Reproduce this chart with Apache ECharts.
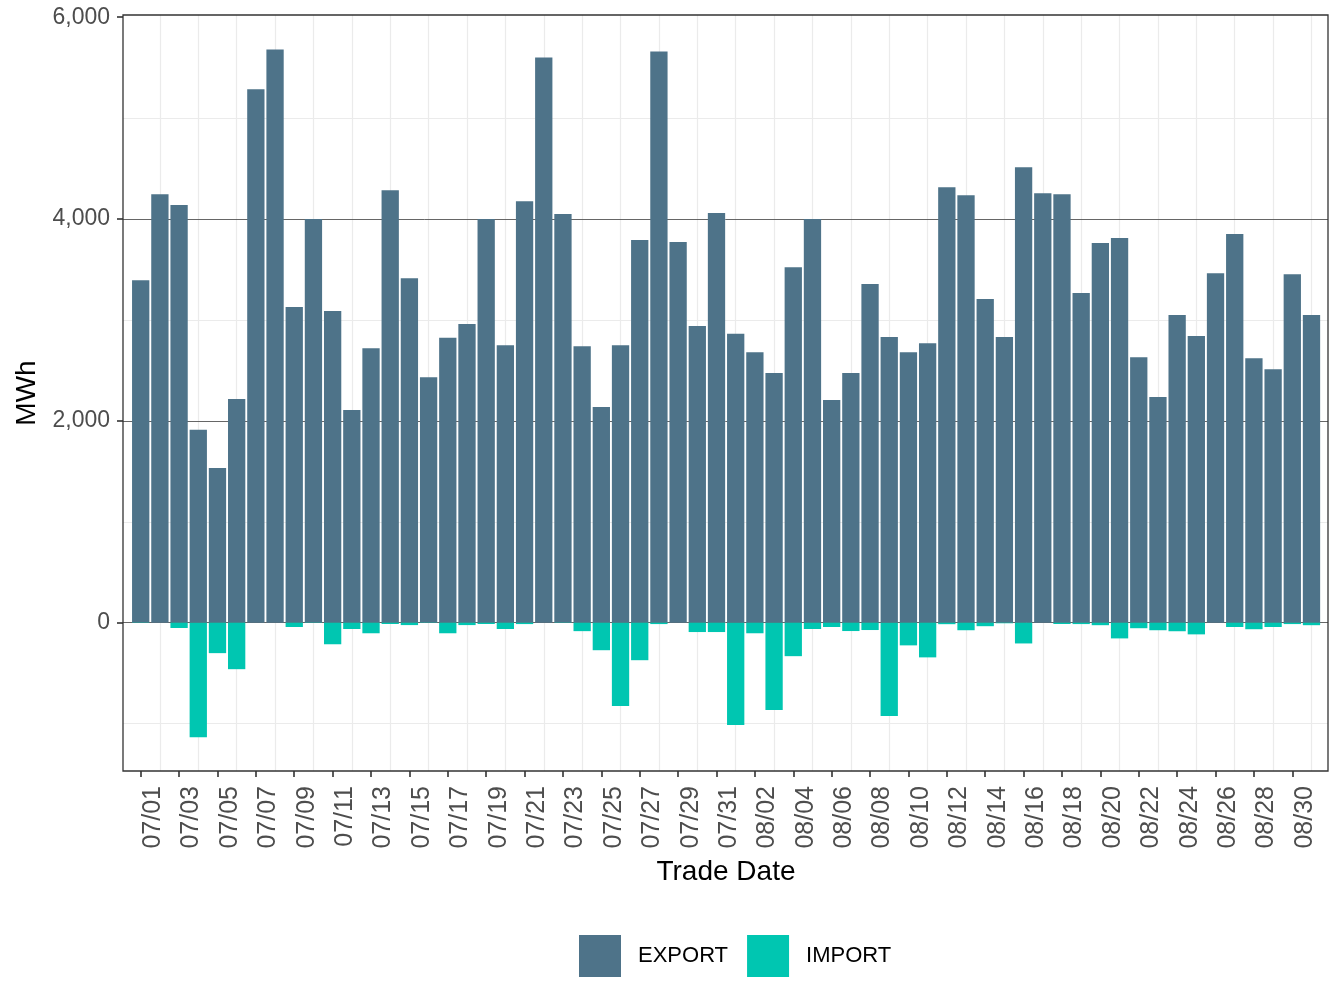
<!DOCTYPE html>
<html>
<head>
<meta charset="utf-8">
<script src="https://cdn.jsdelivr.net/npm/echarts@6/dist/echarts.min.js"></script>
<style>
  html, body { margin: 0; padding: 0; background: #fff; }
  #chart { width: 1344px; height: 1008px; }
</style>
</head>
<body>
<div id="chart"></div>
<script>
const categories = [
  '07/01','07/02','07/03','07/04','07/05','07/06','07/07','07/08','07/09','07/10',
  '07/11','07/12','07/13','07/14','07/15','07/16','07/17','07/18','07/19','07/20',
  '07/21','07/22','07/23','07/24','07/25','07/26','07/27','07/28','07/29','07/30','07/31',
  '08/01','08/02','08/03','08/04','08/05','08/06','08/07','08/08','08/09','08/10',
  '08/11','08/12','08/13','08/14','08/15','08/16','08/17','08/18','08/19','08/20',
  '08/21','08/22','08/23','08/24','08/25','08/26','08/27','08/28','08/29','08/30','08/31'
];
const exportVals = [
  3394, 4246, 4138, 1911, 1532, 2217, 5286, 5680, 3128, 4000,
  3089, 2108, 2719, 4286, 3414, 2433, 2823, 2961, 4000, 2749,
  4177, 5601, 4049, 2739, 2138, 2749, 3793, 5660, 3773, 2941, 4059,
  2862, 2680, 2473, 3522, 4000, 2207, 2473, 3355, 2832, 2680,
  2768, 4315, 4236, 3207, 2832, 4512, 4256, 4246, 3266, 3763,
  3813, 2630, 2236, 3049, 2842, 3463, 3852, 2621, 2512, 3453, 3049
];
const importVals = [
  -3, 0, -53, -1135, -302, -461, 0, 0, -43, -3,
  -214, -63, -105, -13, -24, -3, -105, -24, -13, -63,
  -14, 0, -3, -84, -273, -826, -372, -14, 0, -93, -93,
  -1014, -105, -866, -332, -63, -43, -83, -73, -925, -225,
  -344, -15, -75, -35, -6, -206, 0, -13, -14, -25,
  -156, -55, -75, -85, -116, 0, -43, -65, -43, -14, -25
];
const yTickLabels = [0, 2000, 4000, 6000];
const yMinorLines = [-1000, 1000, 3000, 5000];
const yMajorLines = [0, 2000, 4000];

const seriesNames = ['EXPORT', 'IMPORT'];
const colors = ['#4E7389', '#00C6B1'];

const chart = echarts.init(document.getElementById('chart'), null, { renderer: 'canvas' });

const idx = categories.map((c, i) => i);
const xTickIdx = idx.filter(i => i % 2 === 0);
const vGridIdx = idx.filter(i => i % 2 === 1);
const gridMarkData = []
  .concat(vGridIdx.map(i => ({ xAxis: i, lineStyle: { color: '#EBEBEB', width: 1.2, type: 'solid' } })))
  .concat(yMinorLines.map(v => ({ yAxis: v, lineStyle: { color: '#EBEBEB', width: 1.2, type: 'solid' } })))
  .concat(yMajorLines.map(v => ({ yAxis: v, lineStyle: { color: '#555555', width: 0.9, type: 'solid' } })));

const fmt = v => v.toLocaleString('en-US');

const option = {
  animation: false,
  backgroundColor: '#ffffff',
  textStyle: { fontFamily: 'Liberation Sans, Arial, sans-serif' },
  grid: { left: 123, right: 16, top: 15, bottom: 237, containLabel: false },
  legend: {
    data: seriesNames,
    left: 574, top: 930,
    orient: 'horizontal',
    icon: 'rect',
    itemWidth: 42, itemHeight: 42, itemGap: 19,
    textStyle: { fontSize: 22, color: '#000', padding: [0, 0, 0, 12] }
  },
  xAxis: {
    type: 'value',
    min: -0.922, max: 61.86,
    position: 'bottom',
    axisLine: { show: false, onZero: false },
    axisTick: { show: true, customValues: xTickIdx, length: 6, lineStyle: { color: '#333', width: 1.6 } },
    axisLabel: { customValues: xTickIdx, rotate: 90, fontSize: 25, color: '#4D4D4D', margin: 15, verticalAlign: 'top',
      formatter: v => categories[Math.round(v)] },
    splitLine: { show: false }
  },
  yAxis: {
    type: 'value',
    min: -1470, max: 6022,
    position: 'left',
    axisLine: { show: false, onZero: false },
    axisTick: { show: true, customValues: yTickLabels, length: 6, lineStyle: { color: '#333', width: 1.6 } },
    axisLabel: { customValues: yTickLabels, fontSize: 23, color: '#4D4D4D', margin: 13, formatter: fmt },
    splitLine: { show: false }
  },
  graphic: [
    { type: 'rect', shape: { x: 123, y: 15, width: 1205, height: 756 }, style: { fill: 'none', stroke: '#333', lineWidth: 1.3 }, z: 100, silent: true },
    { type: 'text', x: 726, y: 872, style: { text: 'Trade Date', fontSize: 28, fill: '#000', align: 'center', verticalAlign: 'middle', fontFamily: 'Liberation Sans, Arial, sans-serif' }, z: 100 },
    { type: 'text', x: 27, y: 393, rotation: Math.PI / 2, style: { text: 'MWh', fontSize: 28, fill: '#000', align: 'center', verticalAlign: 'middle', fontFamily: 'Liberation Sans, Arial, sans-serif' }, z: 100 }
  ],
  series: [
    {
      name: 'grid', type: 'line', data: [], z: 0, silent: true,
      markLine: { z: 0, silent: true, symbol: ['none', 'none'], label: { show: false }, animation: false, data: gridMarkData }
    },
    {
      name: seriesNames[0], type: 'bar', data: exportVals.map((v, i) => [i, v]), z: 3,
      barWidth: 17.3, barGap: '-100%',
      itemStyle: { color: colors[0] }
    },
    {
      name: seriesNames[1], type: 'bar', data: importVals.map((v, i) => [i, v]), z: 3,
      barWidth: 17.3, barGap: '-100%',
      itemStyle: { color: colors[1] }
    }
  ]
};
chart.setOption(option);
</script>
</body>
</html>
